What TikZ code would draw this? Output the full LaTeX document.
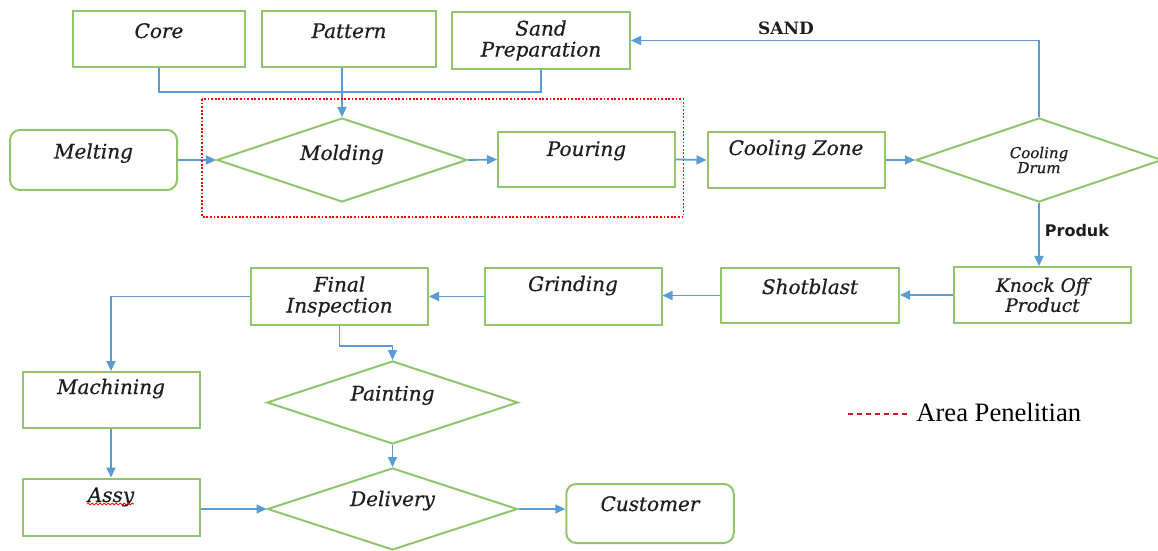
\documentclass[tikz,border=0pt]{standalone}
\usepackage{fontspec}
\setmainfont{Liberation Serif}
\newfontfamily\boxfont{DejaVu Serif}[ItalicFeatures={FakeBold=0.6}]
\newfontfamily\labelsans{DejaVu Sans}
\usetikzlibrary{arrows.meta,shapes.geometric,decorations.pathmorphing}

\definecolor{boxgreen}{RGB}{146,196,110}
\definecolor{flowblue}{RGB}{91,155,213}
\definecolor{legendred}{RGB}{200,30,30}
\definecolor{boxtext}{RGB}{30,30,30}

\begin{document}
\begin{tikzpicture}[x=0.5pt,y=-0.5pt,
	proc/.style={draw=boxgreen,line width=1pt,rectangle,minimum width=88.5pt,minimum height=28pt,inner sep=0pt,
		font=\boxfont\itshape\fontsize{10}{10.5}\selectfont,text=boxtext,align=center},
	term/.style={proc,rounded corners=5pt},
	decide/.style={proc,diamond,shape aspect=3},
	lift/.style={text height=7pt,text depth=#1},
	link/.style={draw=flowblue,line width=0.9pt},
	flow/.style={link,-{Triangle[length=5pt,width=4.5pt]}},
	flowlabel/.style={inner sep=2.5pt,text=boxtext}]
	\useasboundingbox (0,0) rectangle (1158,551);
		% first row
		\node[proc,lift=8pt,minimum width=86pt] (core) at (159,39) {Core};
		\node[proc,lift=8pt,minimum width=87pt] (pattern) at (349,39) {Pattern};
		\node[proc,minimum width=89pt,minimum height=28.5pt] (sand) at (541,40.5) {Sand\\Preparation};
		% second row
		\node[term,lift=8.5pt,minimum width=83.5pt,minimum height=30pt] (melting) at (93.5,160) {Melting};
		\node[decide,lift=7pt,minimum width=125pt,minimum height=42pt] (molding) at (342,160) {Molding};
		\node[proc,lift=10.5pt,minimum height=27.5pt] (pouring) at (586.5,159.5) {Pouring};
		\node[proc,lift=12pt] (coolzone) at (796,160) {Cooling Zone};
		\node[decide,minimum width=123pt,minimum height=42pt,font=\boxfont\itshape\fontsize{7.5}{7.5}\selectfont] (drum) at (1039,160) {Cooling\\Drum};
		% third row
		\node[proc,font=\boxfont\itshape\fontsize{9.3}{9}\selectfont] (knock) at (1042.5,295) {Knock Off\\Product};
		\node[proc,lift=8.5pt,minimum width=89pt,minimum height=27.5pt] (shotblast) at (810,295.5) {Shotblast};
		\node[proc,lift=12.5pt,minimum height=28.5pt] (grinding) at (573,296.5) {Grinding};
		\node[proc,minimum height=28.5pt] (final) at (339.5,296.5) {Final\\Inspection};
		% last rows
		\node[proc,lift=13pt] (machining) at (111,400) {Machining};
		\node[decide,lift=9pt,minimum width=125.5pt,minimum height=41.5pt] (painting) at (392.5,402.5) {Painting};
		\node[proc,lift=12pt,minimum height=28.5pt] (assy) at (111,507) {Assy};
		\node[decide,lift=10pt,minimum width=125pt,minimum height=41pt] (delivery) at (392.5,509) {Delivery};
		\node[term,lift=9.5pt,minimum width=83.75pt,minimum height=29.5pt] (customer) at (650,513.5) {Customer};
		\draw[red,line width=0.4pt,decorate,decoration={snake,amplitude=0.4pt,segment length=2pt}]
			([xshift=-12pt,yshift=1.5pt]assy.center) -- ++(47,0);
		% connectors
		\draw[link] (core.south) -- ++(0,24) -| (sand.south);
		\draw[flow] (molding.north |- pattern.south) -- (molding.north);
		\draw[flow] (melting.east) -- (molding.west);
		\draw[flow] (molding.east) -- (pouring.west);
		\draw[flow] (pouring.east) -- (coolzone.west);
		\draw[flow] (coolzone.east) -- (drum.west);
		\draw[flow] (drum.north) |- node[pos=0.81,anchor=south,flowlabel,font=\boxfont\bfseries\fontsize{8.5}{9}\selectfont]{SAND} (sand.east);
		\draw[flow] (drum.south) -- node[pos=0.43,anchor=west,flowlabel,font=\labelsans\bfseries\fontsize{8}{9}\selectfont]{Produk} (drum.south |- knock.north);
		\draw[flow] (knock.west) -- (knock.west -| shotblast.east);
		\draw[flow] (shotblast.west) -- (shotblast.west -| grinding.east);
		\draw[flow] (grinding.west) -- (final.east);
		\draw[flow] (final.west) -| (machining.north);
		\draw[flow] (final.south) -- ++(0,20) -| (painting.north);
		\draw[flow] (painting.south) -- (delivery.north);
		\draw[flow] (machining.south) -- (assy.north);
		\draw[flow] (assy.east |- delivery.west) -- (delivery.west);
		\draw[flow] (delivery.east) -- (customer.west |- delivery.east);
		% research area
		\draw[red,line width=0.9pt,dash pattern=on 0.9pt off 0.9pt] (202,99) rectangle (683.5,217);
		\node[font=\fontsize{13.3}{14}\selectfont,anchor=base west,inner sep=0pt] (legend) at (916,421.5) {Area Penelitian};
		\coordinate (legstart) at (848,414);
		\draw[legendred,line width=0.75pt,dash pattern=on 2.6pt off 1.9pt] (legstart) -- ([xshift=-4.5pt]legstart -| legend.west);
\end{tikzpicture}
\end{document}
